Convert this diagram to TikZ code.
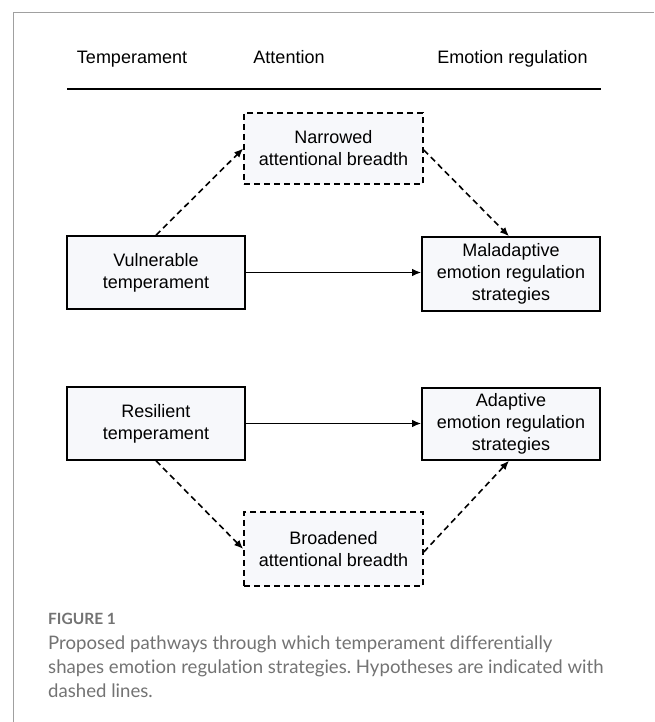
\documentclass[tikz,border=0pt]{standalone}
\usepackage{fontspec}
\setmainfont{Liberation Sans}
\newfontfamily\capfont[Ligatures=NoCommon]{Lato}
\usetikzlibrary{arrows.meta}
\definecolor{boxfill}{HTML}{F7F8FB}
\definecolor{framegray}{HTML}{A0A0A0}
\definecolor{capgray}{HTML}{737373}
\frenchspacing
\begin{document}
\begin{tikzpicture}[x=1pt,y=-1pt,
  box/.style={draw=black, line width=1.6pt, fill=boxfill, minimum width=178pt, minimum height=73pt,
    align=center, font=\fontsize{18}{22}\selectfont, inner sep=0pt},
  dbox/.style={box, dash pattern=on 6pt off 4pt},
  conn/.style={line width=1.6pt, -{Latex[length=9pt,width=7.5pt]}},
  dconn/.style={conn, dash pattern=on 6pt off 4pt},
  head/.style={font=\fontsize{18}{21}\selectfont, inner sep=0pt, anchor=base},
  capline/.style={font=\capfont\fontsize{18.6}{24}\selectfont, text=capgray, inner sep=0pt, anchor=base west}]
\useasboundingbox (0,0) rectangle (654,722);
\fill[white] (0,0) rectangle (654,722);
\draw[framegray, line width=1pt] (13,722) -- (13,12.7) -- (654,12.7);

% headers
\node[head] (h1) at (132,63.5) {Temperament};
\node[head] (h2) at (289,63.5) {Attention};
\node[head] (h3) at (512.5,63.5) {Emotion regulation};
\coordinate (r1) at (67,89);
\coordinate (r2) at (601,89);
\draw[line width=1.6pt] (r1) -- (r2);

% boxes
\node[dbox, minimum width=179pt, minimum height=71pt] (nar) at (333.5,148.5) {Narrowed\\attentional breadth};
\node[box] (vul) at (156,272.5) {Vulnerable\\temperament};
\node[box, minimum height=74pt] (mal) at (511,274) {Maladaptive\\emotion regulation\\strategies};
\node[box] (res) at (156,423.5) {Resilient\\temperament};
\node[box, minimum height=72pt] (ada) at (511,424) {Adaptive\\emotion regulation\\strategies};
\node[dbox, minimum width=179pt, minimum height=74pt] (bro) at (333.5,549) {Broadened\\attentional breadth};

% connectors
\draw[dconn] (vul.north) -- (nar.west);
\draw[dconn] ([yshift=-1.5pt]nar.east) -- ([xshift=-2pt]mal.north);
\draw[conn] (vul.east) -- (vul.east -| mal.west);
\draw[conn] (res.east) -- (res.east -| ada.west);
\draw[dconn] (res.south) -- (bro.west);
\draw[dconn] ([yshift=-3pt]bro.east) -- ([xshift=-2pt]ada.south);

% caption
\node[capline, font=\capfont\bfseries\fontsize{15.5}{17}\selectfont, text=capgray] (fig) at (48,624.5) {FIGURE 1};
\node[capline] (c1) at (48,649) {Proposed pathways through which temperament differentially};
\node[capline] (c2) at (48,673) {shapes emotion regulation strategies. Hypotheses are indicated with};
\node[capline] (c3) at (48,697) {dashed lines.};
\end{tikzpicture}
\end{document}
